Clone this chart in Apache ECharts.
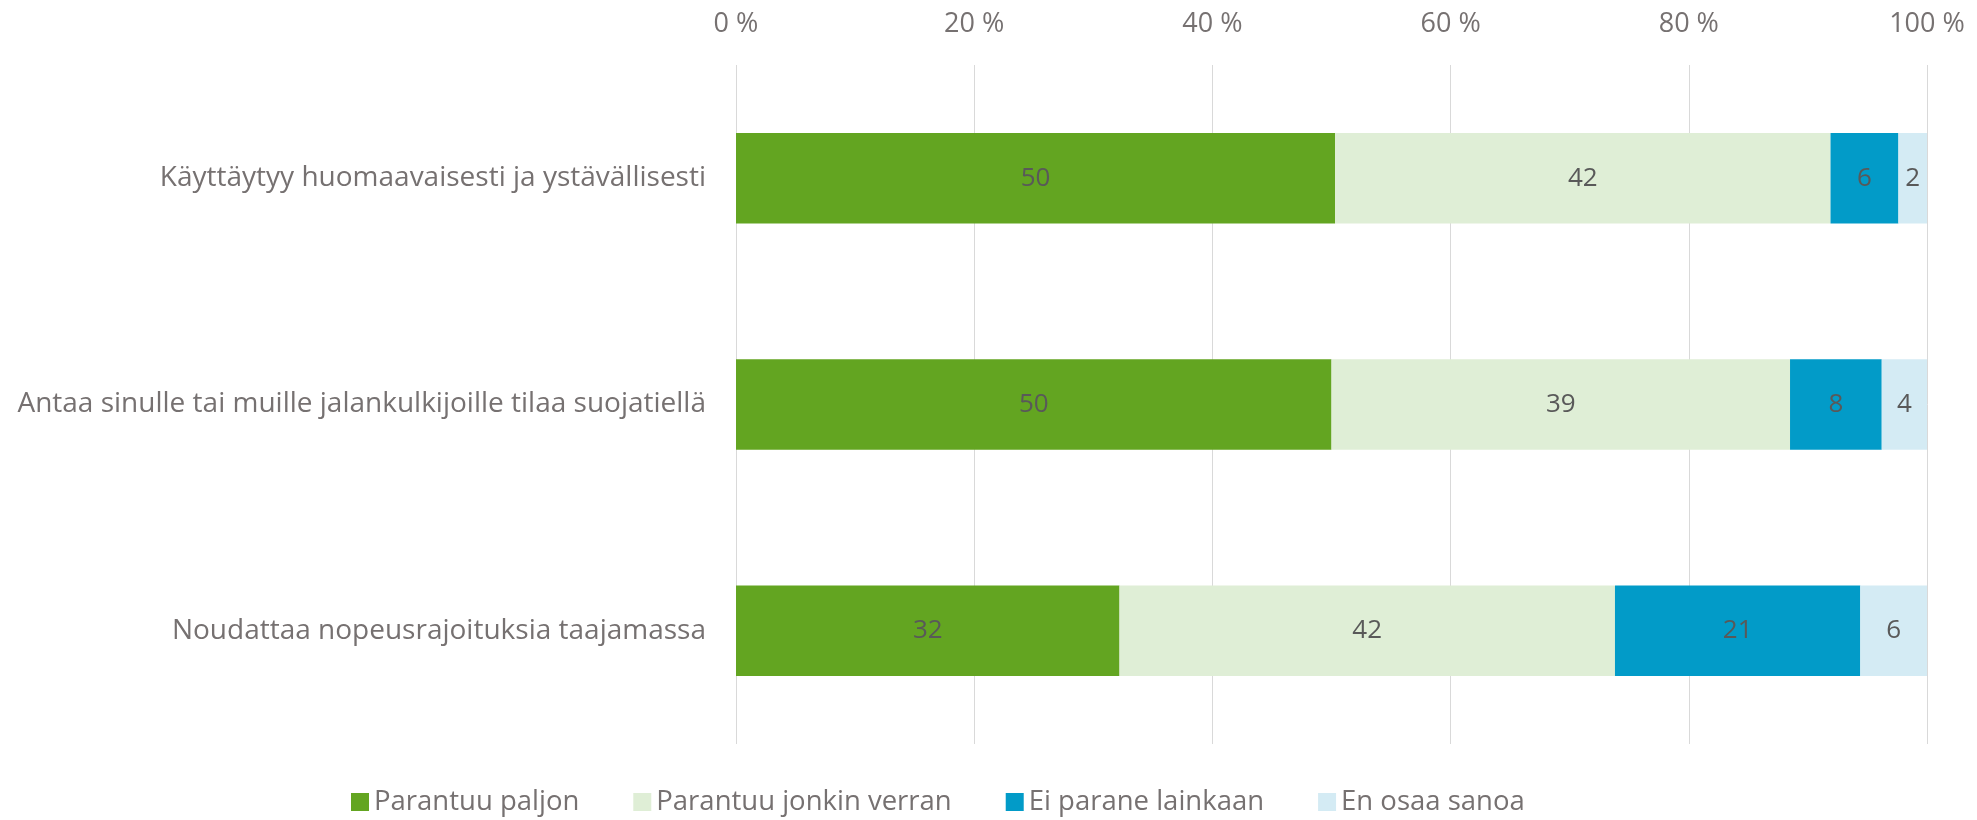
<!DOCTYPE html>
<html>
<head>
<meta charset="utf-8">
<script src="https://cdn.jsdelivr.net/npm/echarts@6/dist/echarts.min.js"></script>
<style>
  html, body { margin: 0; padding: 0; background: #fff; }
  #chart { width: 1977px; height: 820px; }
</style>
</head>
<body>
<div id="chart"></div>
<script>
// kysymykset (ylhäältä alas)
const categories = [
  "Käyttäytyy huomaavaisesti ja ystävällisesti",
  "Antaa sinulle tai muille jalankulkijoille tilaa suojatiellä",
  "Noudattaa nopeusrajoituksia taajamassa"
];
const seriesNames = ["Parantuu paljon", "Parantuu jonkin verran", "Ei parane lainkaan", "En osaa sanoa"];
// osuudet % (arvioitu kuvasta)
const paljon = [50.3, 50.0, 32.2];
const jonkinVerran = [41.6, 38.5, 41.6];
const eiLainkaan = [5.7, 7.7, 20.6];
const enOsaa = [2.4, 3.8, 5.6];
const xTicks = [0, 20, 40, 60, 80, 100];

const colors = ["#63A521", "#DFEED6", "#029BC8", "#D4EBF4"];
const font = "'Open Sans', sans-serif";

let chart = echarts.init(document.getElementById("chart"));
const dataList = [paljon, jonkinVerran, eiLainkaan, enOsaa];

let option = {
  animation: false,
  textStyle: { fontFamily: font },
  grid: {
    left: 736,
    right: 50,
    top: 65,
    bottom: 76
  },
  legend: {
    top: 783,
    left: 346,
    itemWidth: 18,
    itemHeight: 18,
    itemGap: 54,
    icon: "rect",
    textStyle: { color: "#767171", fontSize: 27.5, fontFamily: font },
    data: seriesNames
  },
  xAxis: {
    type: "value",
    position: "top",
    min: xTicks[0],
    max: xTicks[xTicks.length - 1],
    interval: 20,
    axisLine: { show: false },
    axisTick: { show: false },
    axisLabel: {
      formatter: "{value} %",
      color: "#767171",
      fontSize: 27,
      margin: 27
    },
    splitLine: {
      show: true,
      lineStyle: { color: "#D9D9D9", width: 1 }
    }
  },
  yAxis: {
    type: "category",
    inverse: true,
    data: categories,
    axisLine: { show: false },
    axisTick: { show: false },
    axisLabel: {
      color: "#767171",
      fontSize: 28,
      margin: 30
    }
  },
  series: []
};

dataList.forEach((arr, i) => {
  option.series.push({
    name: seriesNames[i],
    type: "bar",
    stack: "total",
    barWidth: "40%",
    data: arr,
    itemStyle: { color: colors[i] },
    label: {
      show: true,
      position: "inside",
      color: "#595959",
      fontSize: 26,
      formatter: p => Math.round(p.value)
    }
  });
});

chart.setOption(option, true);
</script>
</body>
</html>
